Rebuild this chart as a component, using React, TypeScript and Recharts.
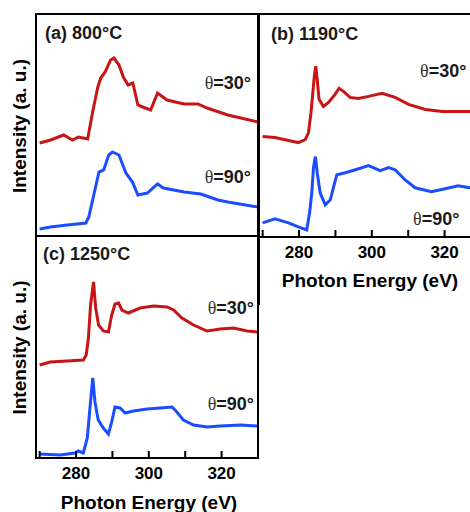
import React from 'react';
import { LineChart, Line, XAxis, YAxis } from 'recharts';

type Pt = [number, number];

// Photon energy axis (eV)
const xDomain: [number, number] = [269, 330];
const xTicks = [270, 280, 290, 300, 310, 320, 330];
const labeledTicks = [280, 300, 320];
// Intensity (arbitrary units, curves stacked with offset)
const yDomain: [number, number] = [0, 222];

const panelTitles = ['(a) 800°C', '(b) 1190°C', '(c) 1250°C'];
const angleLabels = ['=30°', '=90°'];
const xTitle = 'Photon Energy (eV)';
const yTitle = 'Intensity (a. u.)';

// (a) 800°C
const a30: Pt[] = [
  [270, 93], [273, 96], [276.6, 101], [279, 96], [280.7, 99], [283.2, 97], [284.5, 123],
  [286, 149], [286.8, 158], [288, 164], [289.5, 176], [290.4, 178], [291.8, 171], [293, 159],
  [294.3, 151], [295.6, 153], [297, 131], [298.3, 129], [300.5, 126], [302.4, 143], [305, 136],
  [309.7, 132], [313.5, 132], [316, 128], [321.7, 121], [330, 114],
];
const a90: Pt[] = [
  [270, 7], [273, 9], [277.6, 11], [282.7, 13], [283.5, 19], [285, 43], [286.3, 64], [287.6, 66],
  [289, 81], [290, 84], [291.8, 81], [293.7, 63], [295.5, 54], [297, 41], [299.6, 43], [302.4, 52],
  [304, 48], [309.7, 44], [314.3, 42], [319, 36], [321.7, 34], [330, 29],
];

// (b) 1190°C
const b30: Pt[] = [
  [270, 100], [273.4, 99], [277.1, 96], [279.8, 94], [281.7, 97], [282.6, 104], [283.3, 124],
  [283.7, 140], [284.2, 160], [284.6, 170], [285, 157], [285.5, 137], [286.7, 130], [288.1, 134],
  [289.9, 142], [291, 148], [292.2, 145], [294, 139], [296.3, 138], [299.1, 140], [302.8, 143],
  [306.4, 139], [310.1, 132], [314.7, 127], [319.3, 125], [327.1, 125], [330, 125],
];
const b90: Pt[] = [
  [270, 14], [273.4, 18], [277.1, 14], [279.8, 10], [282.1, 7], [282.9, 24], [283.5, 44], [284, 70],
  [284.5, 80], [285, 64], [285.8, 44], [287.2, 32], [288.6, 37], [289.5, 50], [290.4, 62],
  [292.7, 64], [295.5, 67], [299.1, 71], [302.3, 66], [304.6, 69], [306.4, 67], [309.1, 57],
  [311.9, 49], [316.4, 45], [320.1, 48], [323.7, 51], [326.9, 49], [330, 49],
];

// (c) 1250°C
const c30: Pt[] = [
  [270, 93], [272.9, 96], [282, 98], [282.8, 103], [283.4, 120], [284, 153], [284.8, 176],
  [285.4, 150], [286.2, 133], [287.5, 127], [288.9, 126], [289.8, 143], [290.7, 154], [291.7, 155],
  [292.6, 148], [294.4, 145], [297.6, 150], [301.3, 152], [305, 151], [306.8, 148], [309.1, 140],
  [312.3, 133], [316, 127], [319.6, 129], [323.3, 130], [327, 127], [330, 126],
];
const c90: Pt[] = [
  [270, 4], [275.6, 3], [279.7, 5], [280.6, 7], [282, 5], [283.1, 20], [283.9, 53], [284.6, 80],
  [285.2, 56], [286.1, 38], [287.5, 30], [288.9, 24], [289.8, 36], [290.7, 51], [292.1, 50],
  [293.5, 45], [295.8, 47], [299.5, 49], [303.1, 50], [306.4, 51], [307.7, 46], [309.5, 38],
  [312.3, 33], [316, 31], [319.6, 32], [325.2, 33], [330, 32],
];

const RED = '#c81414';
const BLUE = '#1a4dff';
const FONT = "'Liberation Sans', Arial, Helvetica, sans-serif";
const SERIF = "'Liberation Serif', 'DejaVu Serif', serif";

const toData = (pts: Pt[]) => pts.map(([e, i]) => ({ e, i }));

type PanelProps = {
  left: number;
  top: number;
  width: number;
  height: number;
  margin: { top: number; right: number; bottom: number; left: number };
  red: Pt[];
  blue: Pt[];
  showTickLabels: boolean;
  children?: React.ReactNode;
};

// Inward tick mark plus (optional) bold label below the axis
function PanelTick(props: any) {
  const { x, y, payload, showLabel } = props;
  const v = payload?.value as number;
  return (
    <g>
      <line x1={x} y1={y} x2={x} y2={y - 7} stroke="#000" strokeWidth={2} />
      {showLabel && labeledTicks.includes(v) ? (
        <text
          x={x}
          y={y + 21}
          textAnchor="middle"
          style={{ fill: '#000', fontSize: 17, fontWeight: 700, fontFamily: FONT }}
        >
          {String(v)}
        </text>
      ) : null}
    </g>
  );
}

function Panel({ left, top, width, height, margin, red, blue, showTickLabels, children }: PanelProps) {
  const plotW = width - margin.left - margin.right;
  const plotH = height - margin.top - margin.bottom - (showTickLabels ? 50 : 0);
  return (
    <>
      <div style={{ position: 'absolute', left, top }}>
        <LineChart width={width} height={height} margin={margin}>
          <XAxis
            type="number"
            dataKey="e"
            domain={xDomain}
            ticks={xTicks}
            allowDataOverflow
            height={showTickLabels ? 50 : 0}
            tickLine={false}
            tickSize={0}
            tickMargin={0}
            interval={0}
            tick={<PanelTick showLabel={showTickLabels} />}
            axisLine={{ stroke: '#000', strokeWidth: 2 }}
          />
          <YAxis type="number" domain={yDomain} allowDataOverflow hide />
          <Line
            data={toData(red)}
            dataKey="i"
            type="linear"
            stroke={RED}
            strokeWidth={3}
            dot={false}
            isAnimationActive={false}
          />
          <Line
            data={toData(blue)}
            dataKey="i"
            type="linear"
            stroke={BLUE}
            strokeWidth={3}
            dot={false}
            isAnimationActive={false}
          />
          {children}
        </LineChart>
      </div>
      {/* plot frame */}
      <div
        style={{
          position: 'absolute',
          left: left + margin.left - 1,
          top: top + margin.top - 1,
          width: plotW + 2,
          height: plotH + 2,
          border: '2px solid #000',
          boxSizing: 'border-box',
          pointerEvents: 'none',
        }}
      />
    </>
  );
}

const titleStyle = { fontFamily: FONT, fontWeight: 700, fontSize: 18, fill: '#1a1a1a' } as const;
const axisTitleStyle = { fontFamily: FONT, fontWeight: 700, fontSize: 19, fill: '#000' } as const;

function Angle({ x, y, anchor, label }: { x: number; y: number; anchor: 'start' | 'end'; label: string }) {
  return (
    <text x={x} y={y} textAnchor={anchor} style={titleStyle}>
      <tspan style={{ fontFamily: SERIF, fontWeight: 400, fill: '#333' }}>θ</tspan>
      <tspan>{label}</tspan>
    </text>
  );
}

function YTitle({ cy }: { cy: number }) {
  return (
    <text x={26} y={cy} textAnchor="middle" transform={`rotate(-90 26 ${cy})`} style={axisTitleStyle}>
      {yTitle}
    </text>
  );
}

export default function App() {
  return (
    <div
      style={{
        position: 'absolute',
        left: 0,
        top: 0,
        width: 470,
        height: 512,
        overflow: 'hidden',
        background: '#fff',
      }}
    >
      {/* (a) */}
      <Panel
        left={0}
        top={0}
        width={262}
        height={240}
        margin={{ top: 14, right: 4, bottom: 4, left: 36 }}
        red={a30}
        blue={a90}
        showTickLabels={false}
      >
        <text x={45} y={39} style={titleStyle}>{panelTitles[0]}</text>
        <Angle x={251} y={89} anchor="end" label={angleLabels[0]} />
        <Angle x={251} y={183} anchor="end" label={angleLabels[1]} />
        <YTitle cy={126} />
      </Panel>

      {/* (b) */}
      <Panel
        left={223}
        top={0}
        width={262}
        height={300}
        margin={{ top: 14, right: 4, bottom: 13, left: 36 }}
        red={b30}
        blue={b90}
        showTickLabels
      >
        <text x={48} y={40} style={titleStyle}>{panelTitles[1]}</text>
        <Angle x={197} y={77} anchor="start" label={angleLabels[0]} />
        <Angle x={190} y={225} anchor="start" label={angleLabels[1]} />
        <text x={147} y={287} textAnchor="middle" style={axisTitleStyle}>{xTitle}</text>
      </Panel>
      <div style={{ position: 'absolute', left: 258, top: 237, width: 2, height: 68, background: '#000' }} />

      {/* (c) */}
      <Panel
        left={0}
        top={222}
        width={262}
        height={290}
        margin={{ top: 14, right: 4, bottom: 4, left: 36 }}
        red={c30}
        blue={c90}
        showTickLabels
      >
        <text x={43} y={38} style={titleStyle}>{panelTitles[2]}</text>
        <Angle x={254} y={92} anchor="end" label={angleLabels[0]} />
        <Angle x={254} y={188} anchor="end" label={angleLabels[1]} />
        <text x={149} y={287} textAnchor="middle" style={axisTitleStyle}>{xTitle}</text>
        <YTitle cy={125.5} />
      </Panel>
    </div>
  );
}
